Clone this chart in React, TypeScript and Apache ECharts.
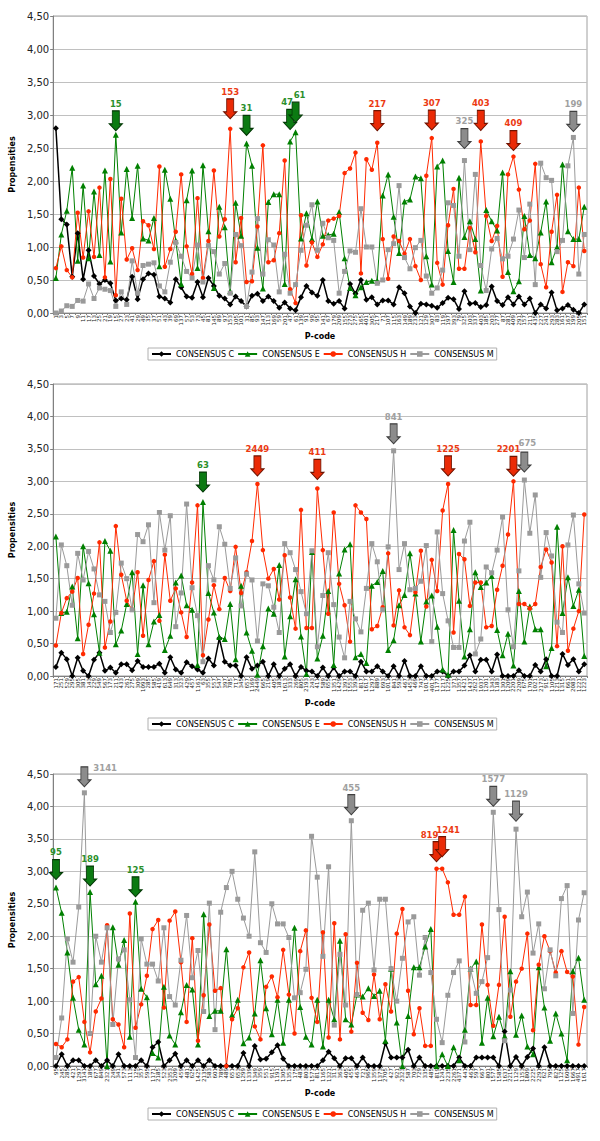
import React, { useEffect, useRef } from "react";
import * as echarts from "echarts";

// ---------- Panel 1 ----------
const codes1 = [1,3,5,7,9,11,17,13,25,21, 19,15,27,23,41,29,49,35,37,51, 43,39,69,137,57,53,73,45,81,145, 89,97,153,105,101,31,85,93,147,113, 169,59,201,47,61,139,91,99,95,141, 67,179,209,155,273,275,165,401,305,217, 71,107,115,163,149,189,233,121,129,307, 83,119,197,393,79,325,103,337,403,185, 203,277,87,281,409,291,157,211,435,227, 241,293,283,161,167,199,205,151].map(String);
const C1 = [2.80,1.42,1.34,0.55,1.21,0.51,0.95,0.56,0.44,0.50, 0.45,0.19,0.22,0.20,0.55,0.21,0.51,0.60,0.58,0.25, 0.22,0.16,0.51,0.39,0.25,0.23,0.47,0.24,0.53,0.41, 0.26,0.22,0.13,0.25,0.18,0.10,0.26,0.29,0.18,0.25, 0.18,0.08,0.16,0.07,0.04,
  0.24,0.41,0.31,0.26,0.50,0.18,0.14,0.18,0.07,0.44, 0.29,0.50,0.20,0.24,0.13,0.19,0.19,0.13,0.39,0.30, 0.10,0.00,0.14,0.13,0.11,0.08,0.15,0.23,0.21,0.06, 0.33,0.14,0.15,0.09,0.12,0.40,0.18,0.12,0.24,0.13, 0.25,0.13,0.22,0.00,0.13,0.07,0.31,0.04,0.07,0.12, 0.05,0.00,0.13];
const E1 = [0.53,1.19,1.55,2.20,0.79,1.93,0.83,1.84,0.88,2.16, 0.78,2.70,1.22,2.18,1.44,2.23,1.13,1.10,1.44,0.71, 2.17,1.73,1.10,0.44,1.71,2.16,0.68,2.24,1.24,0.38, 1.61,1.30,0.33,1.67,1.17,2.57,2.23,0.99,0.37,1.68, 1.80,1.80,0.44,2.60,2.74,
  1.13,1.51,1.12,1.69,1.17,1.18,1.20,1.53,0.83,0.38, 0.27,0.39,0.47,0.49,0.49,1.78,2.10,1.46,0.91,1.69, 1.72,2.07,2.04,0.86,0.43,2.22,2.31,0.94,0.47,2.05, 1.15,1.39,1.12,0.34,1.56,1.39,1.25,2.13,0.62,0.33, 0.48,1.47,0.88,0.83,1.22,1.69,0.77,1.00,2.25,1.24, 1.12,1.12,1.61];
const H1 = [0.68,1.01,0.65,0.54,1.52,0.84,1.54,0.85,1.90,0.54, 2.03,0.27,1.73,0.81,0.98,0.65,1.39,1.33,0.97,2.22, 0.70,0.97,1.23,2.10,1.01,0.59,1.74,0.53,1.09,2.16, 1.16,1.42,2.79,0.77,1.44,0.47,0.48,1.31,2.54,0.77, 0.80,1.21,2.31,0.36,0.15,
  1.48,0.72,1.07,0.85,1.04,1.40,1.43,1.47,2.12,2.19, 2.43,0.60,2.33,2.17,2.58,1.12,0.52,1.16,1.09,0.90, 1.12,0.71,0.50,2.08,2.65,0.76,0.43,1.33,1.88,0.67, 0.67,1.29,0.92,2.60,1.47,1.09,1.32,0.55,2.10,2.37, 1.87,1.27,1.40,2.26,0.74,0.39,1.23,1.79,0.32,0.77, 0.71,1.90,0.94];
const M1 = [0.00,0.03,0.11,0.10,0.19,0.18,0.44,0.22,0.38,0.36, 0.34,0.10,0.32,0.13,0.79,0.30,0.72,0.74,0.76,0.41, 0.32,0.77,1.07,0.86,0.63,0.53,1.03,0.47,1.02,0.93, 0.59,0.75,0.30,1.19,1.02,0.10,0.62,1.43,0.59,1.11, 1.03,0.32,0.89,0.30,0.43,
  0.95,1.33,1.64,0.95,1.36,1.14,1.10,0.30,0.63,0.94, 0.92,1.58,1.00,1.00,0.45,0.50,0.96,1.05,1.93,0.84, 0.67,0.99,1.10,0.56,0.30,0.38,0.65,1.67,1.63,0.86, 2.31,0.96,2.10,0.72,0.34,0.97,1.13,0.82,0.86,1.12, 1.56,0.84,1.65,0.43,2.27,2.05,2.01,0.93,1.10,2.23, 2.66,0.59,1.19];

// ---------- Panel 2 ----------
const codes2 = [171,251,529,295,305,381,143,229,549,567, 173,211,433,261,275,309,1093,285,585,419, 613,649,313,323,429,457,1161,63,355,557, 547,397,785,717,345,657,1169,2449,665,219, 405,183,1613,333,269,805,2193,243,411,589, 655,1351,1429,1397,1553,1393,817,1617,1297,889, 693,1011,841,593,467,1453,469,747,1017,4017, 1177,1217,1225,371,1357,1421,1437,2621,1037,1201, 1343,1183,1301,1209,2201,2209,675,1701,1021,2173, 915,1105,1213,1315,661,2083,1221,1223].map(String);
const C2 = [0.14,0.36,0.26,0.00,0.28,0.08,0.00,0.25,0.36,0.08, 0.13,0.05,0.18,0.18,0.09,0.23,0.14,0.14,0.14,0.19, 0.05,0.29,0.10,0.05,0.21,0.15,0.10,0.05,0.27,0.16, 0.58,0.22,0.16,0.16,0.00,0.29,0.11,0.16,0.22,0.00, 0.18,0.00,0.11,0.18,0.00,
  0.14,0.08,0.07,0.00,0.13,0.00,0.13,0.00,0.07,0.07, 0.00,0.22,0.07,0.07,0.15,0.07,0.00,0.15,0.00,0.23, 0.00,0.00,0.15,0.00,0.00,0.07,0.07,0.00,0.07,0.07, 0.16,0.32,0.07,0.25,0.25,0.07,0.33,0.00,0.00,0.00, 0.09,0.00,0.00,0.17,0.07,0.26,0.00,0.00,0.34,0.17, 0.26,0.07,0.18];
const E2 = [2.15,0.97,0.99,1.38,0.58,2.00,1.43,0.95,0.36,2.08, 1.93,0.49,0.70,1.11,1.60,0.34,1.40,0.49,0.84,0.94, 0.40,0.62,1.44,1.55,1.09,1.02,0.17,2.68,1.28,0.98, 0.60,0.57,1.11,0.26,1.39,0.67,0.39,0.02,0.46,1.04, 0.96,1.71,0.30,0.92,1.49, 0.61,0.03,1.91,0.27,
  0.62,1.31,0.17,1.58,1.95,2.03,0.29,0.34,0.20,1.39, 1.45,1.62,0.40,0.55,1.09,1.25,1.89,1.27,0.53,1.15, 1.24,0.76,0.10,0.02,2.25,1.16,0.30,0.72,1.60,1.37, 1.44,1.54,0.71,0.32,0.65,0.16,1.31,0.53,1.07,0.72, 0.72,0.15,0.43,2.30,0.97,1.52,1.08,1.33,0.31];
const H2 = [0.47,0.97,1.20,1.30,1.51,0.34,0.79,1.27,2.06,0.44, 0.84,2.31,1.56,1.16,1.02,1.60,0.62,1.48,1.77,0.85, 1.87,1.16,1.35,0.98,0.60,1.44,2.63,0.32,0.87,1.40, 1.03,1.51,1.31,1.99,1.28,1.60,2.08,2.96,1.94,1.50, 1.65,1.18,1.86,1.21,0.73,2.56,0.74,0.74,2.89,
  1.94,0.96,2.52,1.42,1.09,0.53,2.63,2.52,2.42,0.72, 0.77,1.06,1.89,0.78,1.32,0.75,0.63,1.29,1.93,1.07, 1.79,1.31,2.55,2.96,0.67,1.88,1.80,1.08,1.44,1.44, 0.75,0.77,1.33,1.70,2.18,3.00,1.11,1.11,1.04,1.11, 1.68,1.95,1.75,0.46,2.00,0.39,0.73,1.00,2.49];
const M2 = [0.89,2.02,1.70,1.09,1.89,1.48,1.92,1.65,1.25,1.15, 0.67,0.98,1.74,1.50,1.02,2.18,2.07,2.33,1.13,2.52, 1.94,2.47,0.76,1.28,2.65,1.36,0.93,0.22,1.70,1.48, 2.30,2.03,1.35,1.82,1.08,1.57,1.48,
  0.54,1.42,1.39,1.06,0.67,2.04,1.90,1.64,1.30,0.96,1.93,0.45,
  1.24,1.90,1.10,0.60,0.28,1.15,0.88,0.68,1.35,2.04, 1.76,1.02,1.99,3.47,1.64,2.04,1.33,1.35,1.46,2.01, 0.53,2.22,1.27,0.85,0.44,0.44,2.08,2.37,0.34,0.57, 1.68,1.59,1.94,2.45,1.02,0.45,1.62,3.02,2.20,2.79, 1.52,2.21,1.85,0.83,0.67,2.02,2.48,1.42,0.97];

// ---------- Panel 3 ----------
const codes3 = [95,245,285,421,1297,3141,189,677,849,2321, 249,341,573,1113,125,357,595,1171,2185,523, 2353,3209,459,481,625,1425,2135,583,601,789, 489,651,653,1299,1339,1349,359,551,915,1191, 1305,1353,175,483,803,1571,811,1165,1321,311, 363,405,455,467,721,965,1359,1373,2705,427, 921,2323,587,703,729,335,485,819,1241,2235, 2261,4371,441,461,597,667,801,1577,1585,1637, 2215,1129,1153,1809,2225,2291,621,795,821,1125, 1609,1667,4917,1617].map(String);
const C3 = [0.00,0.18,0.00,0.09,0.09,0.00,0.00,0.09,0.00,0.09, 0.00,0.18,0.00,0.00,0.00,0.09,0.00,0.29,0.37,0.00, 0.09,0.19,0.00,0.09,0.00,0.09,0.00,0.09,0.00,0.00, 0.00,0.00,0.00,0.20,0.00,0.31,0.10,0.11,0.21,0.32, 0.11,0.00,0.00,
  0.00,0.00,0.00,0.00,0.09,0.22,0.12,0.00,0.12,0.12, 0.00,0.13,0.00,0.00,0.00,0.35,0.13,0.13,0.13,0.25, 0.00,0.13,0.00,0.00,0.00,0.00,0.00,0.00,0.13,0.00, 0.00,0.13,0.13,0.13,0.13,0.00,0.53,0.00,0.14,0.00, 0.14,0.27,0.00,0.29,0.00,0.00,0.00,0.00,0.00,0.00, 0.00];
const E3 = [2.75,2.36,1.75,1.05,0.56,0.33,2.68,1.26,1.39,0.00, 2.14,1.56,1.94,0.45,2.53,1.19,1.06,0.20,0.13,1.22, 0.47,0.33,0.83,1.25,1.18,0.33,2.34,0.77,0.85,0.85, 1.80,0.79,1.02,0.35,0.44,0.81,1.63,0.89,0.49,1.02, 0.36,1.02,2.13,0.91,0.45,0.33,1.02,
  0.30,1.02,0.72,1.93,0.72,0.64,1.10,1.07,1.20,1.08, 1.16,0.39,1.50,0.67,0.00,0.77,1.52,1.52,1.84,2.11, 0.00,0.18,0.00,0.29,0.09,0.56,1.50,1.61,0.36,1.05, 0.46,0.76,0.46,1.46,0.48,0.78,0.30,0.18,1.52,0.90, 0.39,0.81,0.50,0.09,1.46,1.67,1.02];
const H3 = [0.34,0.29,0.41,1.30,1.37,0.68,0.21,0.84,1.04,2.17, 0.72,0.64,0.29,2.35,0.59,0.95,1.39,2.11,2.25,0.90, 2.24,2.38,1.60,0.68,1.97,0.39,1.09,2.18,1.16,
  1.20,0.00,0.72,0.89,1.52,1.75,0.61,0.41,1.22,1.38, 1.06,1.79,1.10,0.50,1.77,2.09,1.05,0.68,
  2.06,0.44,2.20,0.41,2.03,0.53,1.59,0.82,0.71,1.41, 0.72,1.26,0.84,2.04,2.42,1.16,0.49,0.89,0.31,0.31, 3.04,3.04,2.83,2.33,2.33,2.61,0.94,0.94,2.18,1.25, 0.62,1.25,2.30,0.76,1.30,1.50,2.04,0.55,1.56,2.00, 1.77,1.44,1.77,1.45,1.38,0.33,0.91];
const M3 = [0.13,0.74,1.96,1.60,2.45,4.21,0.50,2.00,1.60,2.13, 0.64,1.65,1.79,1.02,0.13,1.96,1.57,1.57,1.31,2.13, 1.07,0.94,1.63,2.32,1.36,1.78,0.84,2.51,0.56,2.37, 2.75,3.00,2.57,2.28,2.00,3.30,1.90,1.75,2.50,2.19, 2.19,1.98,1.05,1.13,1.49,
  3.54,2.91,1.69,3.07,0.63,1.72,0.94,3.78,1.10,2.40, 2.51,1.48,2.57,2.57,1.50,1.00,1.66,2.22,2.30,1.40, 1.98,1.44,0.72,0.36,1.09,1.44,1.62,0.37,1.49,1.12, 1.30,1.67,3.91,2.41,0.39,1.17,3.65,2.30,2.68,1.74, 2.19,1.19,1.79,1.39,2.58,2.78,0.81,2.25,2.67];

// ---------- Arrow annotations (series key, category index) ----------
type Key = "C" | "E" | "H" | "M";
type Arrow = { s: Key; i: number; gap: number; lp?: string; lo?: number[] };
const arrows1: Arrow[] = [
  { s: "E", i: 11, gap: 4 }, { s: "H", i: 32, gap: 10 }, { s: "E", i: 35, gap: 8 },
  { s: "E", i: 43, gap: 12, lo: [-3, 0] }, { s: "E", i: 44, gap: 10, lo: [4, 0] }, { s: "H", i: 59, gap: 12 },
  { s: "H", i: 69, gap: 8 }, { s: "M", i: 75, gap: 12 }, { s: "H", i: 78, gap: 11 },
  { s: "H", i: 84, gap: 6 }, { s: "M", i: 95, gap: 6 },
];
const arrows2: Arrow[] = [
  { s: "E", i: 27, gap: 10 }, { s: "H", i: 37, gap: 8 }, { s: "H", i: 48, gap: 9 },
  { s: "M", i: 62, gap: 7 }, { s: "H", i: 72, gap: 8 }, { s: "H", i: 84, gap: 5, lo: [-5, 0] },
  { s: "M", i: 86, gap: 8, lo: [3, -2] },
];
const arrows3: Arrow[] = [
  { s: "E", i: 0, gap: 8 }, { s: "M", i: 5, gap: 6, lp: "right", lo: [0, -9] },
  { s: "E", i: 6, gap: 6 }, { s: "E", i: 14, gap: 5 }, { s: "M", i: 52, gap: 6 },
  { s: "H", i: 67, gap: 7, lo: [-7, 0] }, { s: "H", i: 68, gap: 12, lo: [6, 0] },
  { s: "M", i: 77, gap: 6 }, { s: "M", i: 81, gap: 8 },
];

const NAMES: Record<Key, string> = {
  C: "CONSENSUS C", E: "CONSENSUS E", H: "CONSENSUS H", M: "CONSENSUS M",
};
const KEYS: Key[] = ["C", "E", "H", "M"];
const STYLE: Record<Key, { color: string; symbol: string; size: number; width: number }> = {
  C: { color: "#000000", symbol: "diamond", size: 6, width: 1.5 },
  E: { color: "#008000", symbol: "triangle", size: 6, width: 1 },
  H: { color: "#ff2a00", symbol: "circle", size: 4.5, width: 1 },
  M: { color: "#9a9a9a", symbol: "rect", size: 5, width: 1 },
};
const ARROW_COL: Record<string, { fill: string; stroke: string; text: string }> = {
  E: { fill: "#0b7a12", stroke: "#043a07", text: "#2b8f2b" },
  H: { fill: "#ea2a06", stroke: "#6e1300", text: "#ec3a12" },
  M: { fill: "#8c8c8c", stroke: "#3f3f3f", text: "#a0a0a0" },
};
const ARROW_PATH = "path://M3,0L10,0L10,13L13,13L6.5,20L0,13L3,13Z";
const FONT = "DejaVu Sans";

const PANELS = [
  { codes: codes1, data: { C: C1, E: E1, H: H1, M: M1 }, arrows: arrows1, top: 16, height: 297, nameGap: 19, legendTop: 348 },
  { codes: codes2, data: { C: C2, E: E2, H: H2, M: M2 }, arrows: arrows2, top: 384, height: 292, nameGap: 23, legendTop: 718 },
  { codes: codes3, data: { C: C3, E: E3, H: H3, M: M3 }, arrows: arrows3, top: 774, height: 292, nameGap: 23, legendTop: 1108 },
];

function buildOption() {
  const grid: any[] = [], xAxis: any[] = [], yAxis: any[] = [], series: any[] = [], legend: any[] = [];
  PANELS.forEach((p, k) => {
    grid.push({ left: 53, width: 534, top: p.top, height: p.height, show: true, borderColor: "#a0a0a0", borderWidth: 1 });
    xAxis.push({
      type: "category", gridIndex: k, data: p.codes, boundaryGap: true,
      axisLine: { lineStyle: { color: "#808080" } },
      axisTick: { show: true, length: 2, interval: 0, lineStyle: { color: "#808080" } },
      axisLabel: { interval: 0, rotate: 90, fontSize: 5.5, color: "#222", margin: 2, fontFamily: FONT },
      name: "P-code", nameLocation: "middle", nameGap: p.nameGap,
      nameTextStyle: { fontWeight: "bold", fontSize: 8, fontFamily: FONT, color: "#000" },
    });
    yAxis.push({
      type: "value", gridIndex: k, min: 0, max: 4.5, interval: 0.5,
      axisLine: { show: true, lineStyle: { color: "#808080" } },
      axisTick: { show: true, length: 3, lineStyle: { color: "#808080" } },
      splitLine: { show: true, lineStyle: { color: "#c0c0c0", width: 1 } },
      axisLabel: {
        formatter: (v: number) => v.toFixed(2).replace(".", ","),
        fontSize: 10, color: "#222", margin: 4, fontFamily: FONT,
      },
      name: "Propensities", nameLocation: "middle", nameGap: 28,
      nameTextStyle: { fontWeight: "bold", fontSize: 8, fontFamily: FONT, color: "#000" },
    });
    KEYS.forEach((key) => {
      const st = STYLE[key];
      const vals = (p.data as any)[key] as number[];
      const marks = p.arrows.filter((a) => a.s === key).map((a) => ({
        coord: [a.i, vals[a.i]],
        symbolOffset: [0, -(10 + a.gap)],
        itemStyle: { color: ARROW_COL[key].fill, borderColor: ARROW_COL[key].stroke, borderWidth: 1 },
        label: {
          show: true, position: a.lp || "top", distance: 2, offset: a.lo || [0, 0],
          formatter: p.codes[a.i], color: ARROW_COL[key].text, fontWeight: "bold", fontSize: 8.5, fontFamily: FONT,
        },
      }));
      series.push({
        type: "line", name: NAMES[key], xAxisIndex: k, yAxisIndex: k, data: vals,
        symbol: st.symbol, symbolSize: st.size, showAllSymbol: true,
        lineStyle: { width: st.width, color: st.color }, itemStyle: { color: st.color },
        emphasis: { disabled: true },
        markPoint: marks.length ? { symbol: ARROW_PATH, symbolSize: [13, 20], data: marks, animation: false } : undefined,
      });
    });
    legend.push({
      top: p.legendTop, left: 148, data: KEYS.map((k2) => NAMES[k2]),
      itemWidth: 19, itemHeight: 7, itemGap: 3, padding: [2, 3],
      borderColor: "#b0b0b0", borderWidth: 1, selectedMode: false,
      textStyle: { fontSize: 8, color: "#000", fontFamily: FONT },
    });
  });
  return { animation: false, textStyle: { fontFamily: FONT }, grid, xAxis, yAxis, series, legend };
}

export default function App() {
  const ref = useRef<HTMLDivElement>(null);
  useEffect(() => {
    if (!ref.current) return;
    const chart = echarts.init(ref.current, undefined, { renderer: "svg" });
    chart.setOption(buildOption() as any);
    return () => chart.dispose();
  }, []);
  return (
    <div
      ref={ref}
      style={{ position: "absolute", left: 0, top: 0, width: 600, height: 1141, background: "#fff" }}
    />
  );
}
